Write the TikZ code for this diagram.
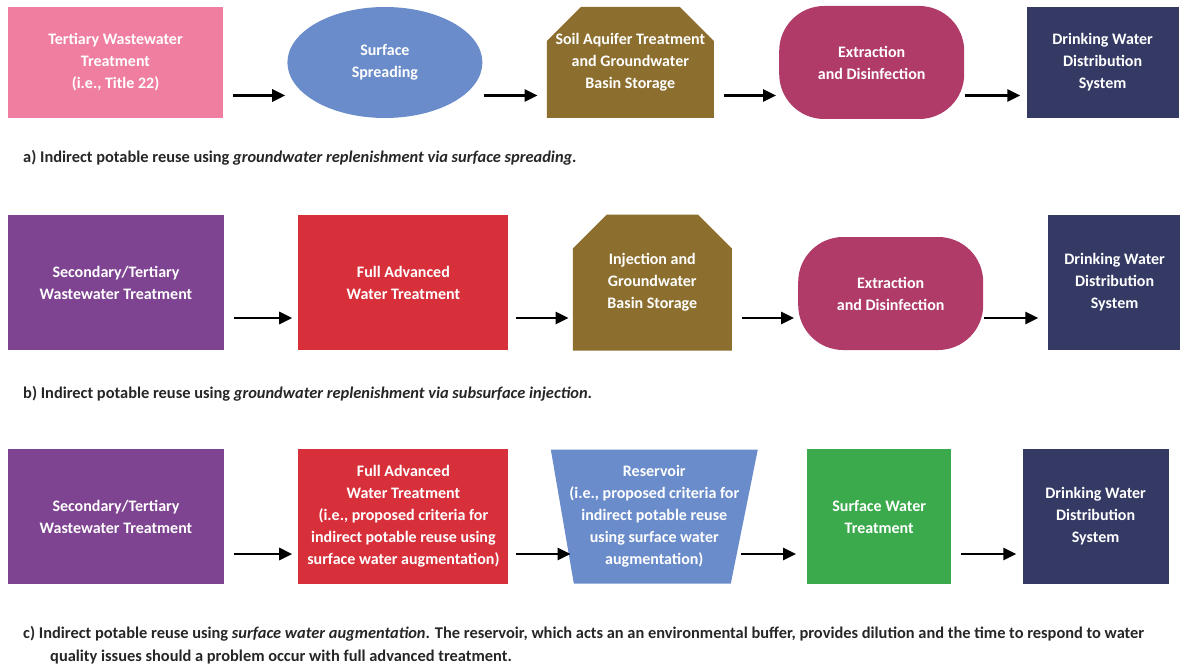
\documentclass[tikz,border=0pt]{standalone}
\usepackage{fontspec}
\setmainfont{Carlito}
\usetikzlibrary{arrows.meta,positioning,shapes.geometric,shapes.misc}
\definecolor{pinkA}{RGB}{240,126,160}
\definecolor{blueA}{RGB}{106,140,202}
\definecolor{goldA}{RGB}{140,111,46}
\definecolor{magA}{RGB}{176,58,104}
\definecolor{navyA}{RGB}{52,58,100}
\definecolor{purpA}{RGB}{126,67,145}
\definecolor{redA}{RGB}{216,48,59}
\definecolor{greenA}{RGB}{59,170,76}

\begin{document}
\begin{tikzpicture}[x=1pt,y=-1pt,
  box/.style={rectangle,inner sep=0pt,align=center,text=white,font=\bfseries\fontsize{16}{22}\selectfont},
  oval/.style={box,ellipse},
  pill/.style={box,rounded corners=45pt},
  basin/.style={box,chamfered rectangle,chamfered rectangle corners={north west,north east},chamfered rectangle xsep=17pt,chamfered rectangle ysep=17pt},
  trap/.style={box,path picture={\fill[blueA] (path picture bounding box.north west) -- (path picture bounding box.north east) -- ([xshift=-27pt]path picture bounding box.south east) -- ([xshift=23pt]path picture bounding box.south west) -- cycle;}},
  arr/.style={-{Triangle[length=13pt,width=12pt]},line width=2.7pt,shorten <=10pt,shorten >=6pt},
  capline/.style={anchor=west,inner sep=0pt,align=left,text=black!85,font=\bfseries\fontsize{16.4}{23}\selectfont}]

\useasboundingbox (0,0) rectangle (1180,671);

% Row a
\node[box,fill=pinkA,minimum width=215pt,minimum height=111pt] (terta) at (115.5,62.5) {Tertiary Wastewater\\Treatment\\(i.e., Title 22)};
\node[oval,fill=blueA,minimum width=195pt,minimum height=111pt,right=64pt of terta] (spread) {Surface\\Spreading};
\node[basin,fill=goldA,inner xsep=-8.5pt,minimum width=167pt,minimum height=111pt,right=64pt of spread] (soila) {Soil Aquifer Treatment\\and Groundwater\\Basin Storage};
\node[pill,fill=magA,minimum width=185pt,minimum height=113pt,right=65pt of soila] (extra) {Extraction\\and Disinfection};
\node[box,fill=navyA,minimum width=152pt,minimum height=111pt,right=62pt of extra] (drinka) {Drinking Water\\Distribution\\System};
\coordinate (ya) at (0,95.5);

\node[capline] (capa) at (23,158) {a) Indirect potable reuse using \textit{groundwater replenishment via surface spreading.}};

% Row b
\node[box,fill=purpA,minimum width=216pt,minimum height=135pt] (secb) at (116,282.5) {Secondary/Tertiary\\Wastewater Treatment};
\node[box,fill=redA,minimum width=210pt,minimum height=135pt,right=74pt of secb] (fullb) {Full Advanced\\Water Treatment};
\node[basin,fill=goldA,minimum width=159pt,minimum height=136pt,right=64pt of fullb] (injb) {Injection and\\Groundwater\\Basin Storage};
\node[pill,fill=magA,minimum width=185pt,minimum height=113pt,right=66pt of injb,yshift=-11pt] (extrb) {Extraction\\and Disinfection};
\node[box,fill=navyA,minimum width=134pt,minimum height=135pt,right=64pt of extrb,yshift=11pt] (drinkb) {Drinking Water\\Distribution\\System};
\coordinate (yb) at (0,318);

\node[capline] (capb) at (23,394) {b) Indirect potable reuse using \textit{groundwater replenishment via subsurface injection}.};

% Row c
\node[box,fill=purpA,minimum width=216pt,minimum height=135pt] (secc) at (116,516.5) {Secondary/Tertiary\\Wastewater Treatment};
\node[box,fill=redA,minimum width=210pt,minimum height=135pt,right=74pt of secc] (fullc) {Full Advanced\\Water Treatment\\(i.e., proposed criteria for\\indirect potable reuse using\\surface water augmentation)};
\node[trap,minimum width=207pt,minimum height=134pt,right=42pt of fullc] (resv) {Reservoir\\(i.e., proposed criteria for\\indirect potable reuse\\using surface water\\augmentation)};
\node[box,fill=greenA,minimum width=144pt,minimum height=135pt,right=49pt of resv] (surfc) {Surface Water\\Treatment};
\node[box,fill=navyA,minimum width=146pt,minimum height=135pt,right=71pt of surfc] (drinkc) {Drinking Water\\Distribution\\System};
\coordinate (yc) at (0,554);

\node[capline,anchor=north west] (capc) at (23,626) {c) Indirect potable reuse using \textit{surface water augmentation}. The reservoir, which acts an an environmental buffer, provides dilution and the time to respond to water\\\hspace*{27pt}quality issues should a problem occur with full advanced treatment.};

%arrows
\path (terta.east |- ya) edge[arr,shorten >=2pt] (spread.west |- ya);
\path (spread.east |- ya) edge[arr,shorten <=1pt,shorten >=9pt] (soila.west |- ya);
\path (soila.east |- ya) edge[arr,shorten >=3pt] (extra.west |- ya);
\path (extra.east |- ya) edge[arr,shorten <=1pt] (drinka.west |- ya);

\path (secb.east |- yb) edge[arr] (fullb.west |- yb);
\path (fullb.east |- yb) edge[arr,shorten <=7pt,shorten >=4pt] (injb.west |- yb);
\path (injb.east |- yb) edge[arr,shorten >=4pt] (extrb.west |- yb);
\path (extrb.east |- yb) edge[arr,shorten <=1pt,shorten >=9pt] (drinkb.west |- yb);

\path (secc.east |- yc) edge[arr] (fullc.west |- yc);
\path (fullc.east |- yc) edge[arr,shorten <=7pt,shorten >=-20pt] (resv.west |- yc);
\path (resv.east |- yc) edge[arr,shorten <=-17pt,shorten >=11pt] (surfc.west |- yc);
\path (surfc.east |- yc) edge[arr] (drinkc.west |- yc);

\end{tikzpicture}
\end{document}
